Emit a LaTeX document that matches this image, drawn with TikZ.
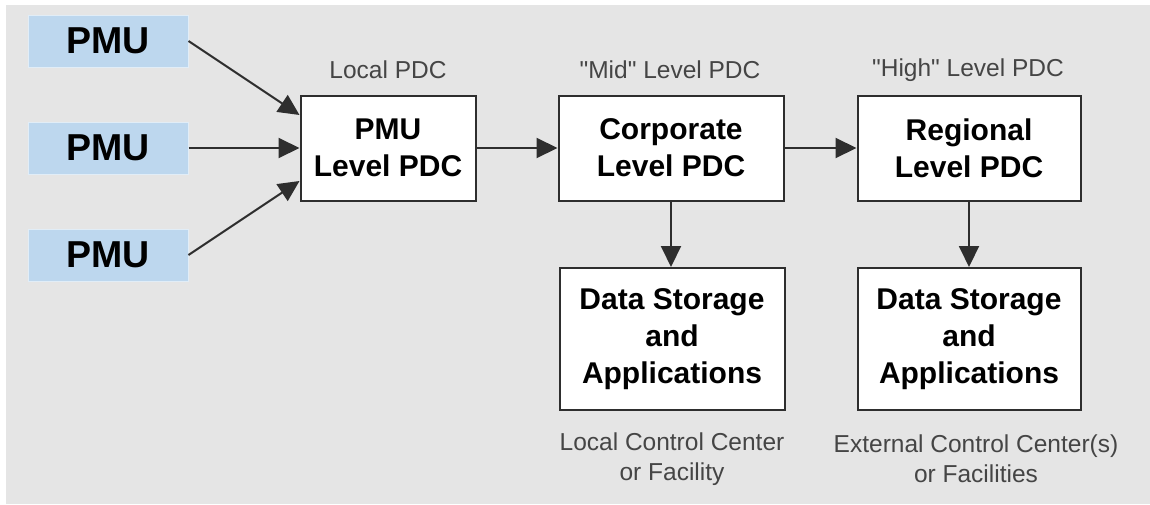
\documentclass[tikz,border=0pt]{standalone}
\usepackage{fontspec}
\setmainfont{Liberation Sans}
\newfontfamily\capfont{Liberation Sans}
\usepackage{tikz}
\usepackage{xcolor}
\usetikzlibrary{positioning,arrows.meta}
\definecolor{pmublue}{HTML}{BDD7EE}
\definecolor{bggray}{HTML}{E5E5E5}
\definecolor{capgray}{HTML}{454545}
\definecolor{linegray}{HTML}{2E2E2E}
\tikzset{
	pmubox/.style={fill=pmublue, draw=white!55!pmublue, line width=1pt, minimum width=160pt, minimum height=52pt, inner sep=0pt, font=\fontsize{37.5}{40}\selectfont\bfseries},
	pdcbox/.style={fill=white, draw=linegray, line width=2pt, minimum height=105pt, inner sep=0pt, align=center, font=\fontsize{30}{36.7}\selectfont\bfseries},
	caption/.style={text=capgray, align=center, inner sep=0pt, font=\capfont\fontsize{24.5}{30}\selectfont},
	flow/.style={draw=linegray, line width=2pt, -{Triangle[length=21pt,width=20pt]}}
}

\begin{document}
\begin{tikzpicture}[x=1pt, y=-1pt]
	% page and grey panel
	\useasboundingbox (0,0) rectangle (1150,504);
	\fill[white] (0,0) rectangle (1150,504);
	\fill[bggray] (6,5) rectangle (1150,504);
	%
	% measuring units
	\node[pmubox] (pmuA) at (108,41) {PMU};
	\node[pmubox] (pmuB) at (108,148) {PMU};
	\node[pmubox] (pmuC) at (108,255) {PMU};
	%
	% pdc chain
	\node[pdcbox, minimum width=175pt] (localpdc) at (388,148) {PMU\\Level PDC};
	\node[pdcbox, minimum width=225pt] (midpdc) at (671,148) {Corporate\\Level PDC};
	\node[pdcbox, minimum width=223pt] (highpdc) at (969,148) {Regional\\Level PDC};
	%
	% storage
	\node[pdcbox, minimum width=225pt, minimum height=142pt] (storeA) at (672,339) {Data Storage\\and\\Applications};
	\node[pdcbox, minimum width=223pt, minimum height=142pt] (storeB) at (969,339) {Data Storage\\and\\Applications};
	%
	% captions
	\node[caption] (lbllocal) at (388,70) {Local PDC};
	\node[caption] (lblmid) at (670,70) {"Mid" Level PDC};
	\node[caption] (lblhigh) at (968,70) {"High" Level PDC};
	\node[caption] (lblctrA) at (672,459) {Local Control Center\\or Facility};
	\node[caption] (lblctrB) at (976,459) {External Control Center(s)\\or Facilities};
	%
	% connectors
	\draw[flow] (pmuA.east) -- ([yshift=33pt]localpdc.west);
	\draw[flow] (pmuB.east) -- (localpdc.west);
	\draw[flow] (pmuC.east) -- ([yshift=-33pt]localpdc.west);
	\draw[flow] (localpdc.east) -- (midpdc.west);
	\draw[flow] (midpdc.east) -- (highpdc.west);
	\draw[flow] (midpdc.south) -- (midpdc.south |- storeA.north);
	\draw[flow] (highpdc.south) -- (storeB.north);
\end{tikzpicture}
\end{document}
